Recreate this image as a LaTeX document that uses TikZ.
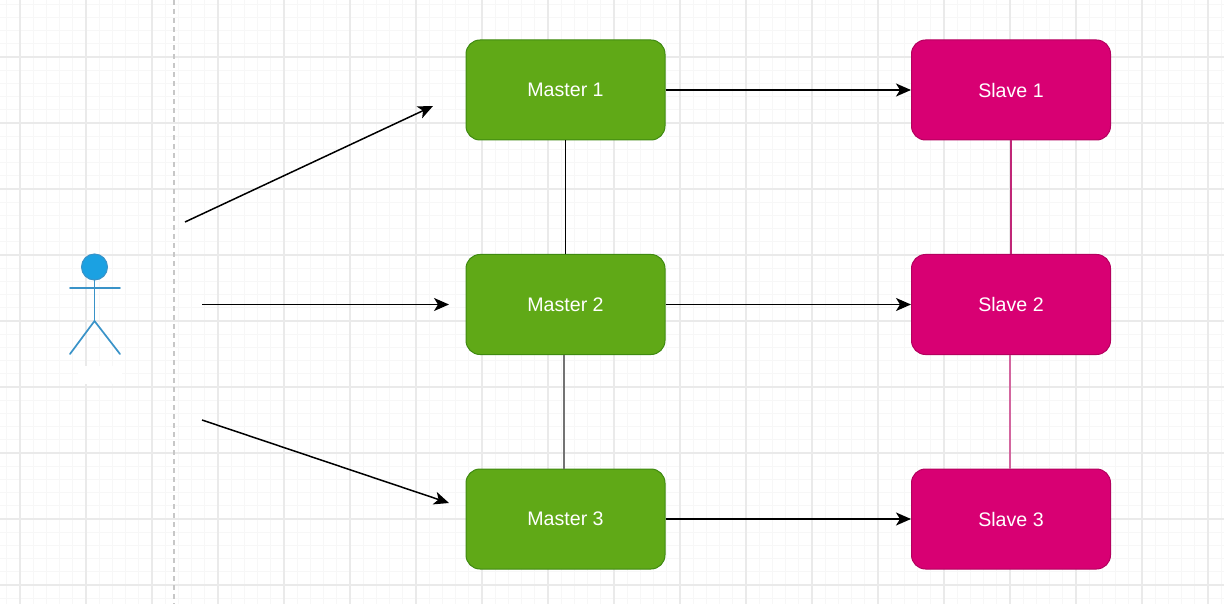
\documentclass[tikz,border=0pt]{standalone}
\usepackage{fontspec}
\setmainfont{Liberation Sans}
\usetikzlibrary{arrows.meta}
\definecolor{gridmajor}{HTML}{EAEAEA}
\definecolor{gridminor}{HTML}{F7F7F7}
\definecolor{mastergreen}{HTML}{60A917}
\definecolor{masterline}{HTML}{3F8A10}
\definecolor{slavepink}{HTML}{D80073}
\definecolor{slaveline}{HTML}{B5005F}
\definecolor{actorblue}{HTML}{1BA1E2}
\definecolor{actorline}{HTML}{3A93C8}
\tikzset{
  master/.style={draw=masterline, fill=mastergreen, rounded corners=14, line width=1,
    minimum width=199, minimum height=100, text=white, inner sep=0,
    font=\fontsize{19.6}{23}\selectfont},
  slave/.style={master, draw=slaveline, fill=slavepink},
  link/.style={draw, line width=1.5, -{Stealth[length=15,width=13,inset=4]}},
  tie/.style={draw, line width=1.5, -},
  limb/.style={draw=actorline, line width=1.7, line cap=round},
}
\begin{document}
\begin{tikzpicture}[x=1pt,y=-1pt]
\useasboundingbox (0,0) rectangle (1224,604);
\fill[white] (0,0) rectangle (1224,604);
% grid
\foreach \i in {0,...,92} {\draw[gridminor, line width=1] (6.8+13.2*\i,0) -- (6.8+13.2*\i,604);}
\foreach \i in {0,...,45} {\draw[gridminor, line width=1] (0,4.2+13.2*\i) -- (1224,4.2+13.2*\i);}
\foreach \i in {0,...,18} {\draw[gridmajor, line width=1.1] (20+66*\i,0) -- (20+66*\i,604);}
\foreach \i in {0,...,8} {\draw[gridmajor, line width=1.1] (0,57+66*\i) -- (1224,57+66*\i);}
\fill[white] (78,366) rectangle (122,384);
\draw[black!22, line width=1.2, dash pattern=on 5 off 4] (174,0) -- (174,604);
% actor
\coordinate (neck) at (94.5,280);
\coordinate (hip) at (94.5,321);
\coordinate (handl) at (70,288);
\coordinate (handr) at (120,288);
\coordinate (footl) at (70,354);
\coordinate (footr) at (120,354);
\path[limb] (neck) -- (hip);
\path[limb] (handl) -- (handr);
\path[limb] (footl) -- (hip) -- (footr);
\node[draw=actorline, fill=actorblue, circle, minimum size=26, inner sep=0, line width=1] (head) at (94.5,267) {};
% boxes
\node[master] (m1) at (565.5,90) {Master 1};
\node[master] (m2) at (565.5,304.5) {Master 2};
\node[master] (m3) at (565.5,519) {Master 3};
\node[slave] (s1) at (1011,90) {Slave 1};
\node[slave] (s2) at (1011,304.5) {Slave 2};
\node[slave] (s3) at (1011,519) {Slave 3};
% client arrows
\coordinate (c1) at (185,222);
\coordinate (c2) at (202,304.5);
\coordinate (c3) at (202,420);
\coordinate (e1) at (433,106);
\coordinate (e2) at (449,304.5);
\coordinate (e3) at (449,503);
\path[link] (c1) -- (e1);
\path[link] (c2) -- (e2);
\path[link] (c3) -- (e3);
\path[link] (m1) -- (s1);
\path[link] (m2) -- (s2);
\path[link] (m3) -- (s3);
% replication lines
\path[tie] (m1) -- (m2);
\path[tie, draw=black!55, line width=2.4] ([xshift=-1.5]m2.south) -- ([xshift=-1.5]m3.north);
\path[tie, draw=slaveline!85, line width=1.4] (s1) -- (s2);
\path[tie, draw=slaveline!60, line width=2] ([xshift=-1]s2.south) -- ([xshift=-1]s3.north);
\end{tikzpicture}
\end{document}
